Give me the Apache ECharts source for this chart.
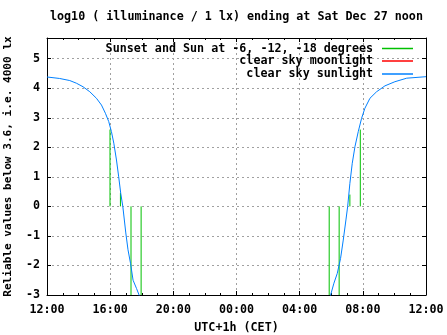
<!DOCTYPE html>
<html>
<head>
<meta charset="utf-8">
<script src="https://cdn.jsdelivr.net/npm/echarts@6/dist/echarts.min.js"></script>
<style>html,body{margin:0;padding:0;background:#fff;}#c{width:447px;height:335px;}</style>
</head>
<body>
<div id="c"></div>
<script>
// ---- data (hours after 12:00 noon) ----
const tickLabels = ['12:00', '16:00', '20:00', '00:00', '04:00', '08:00', '12:00'];
const eveningHours = [0, 0.80, 1.44, 1.86, 2.28, 2.71, 3.13, 3.45, 3.70, 3.91, 4.08, 4.23, 4.40, 4.54, 4.67, 4.80, 4.99, 5.13, 5.29, 5.45, 5.67, 5.83, 5.95];
const eveningSun = [4.38, 4.33, 4.26, 4.17, 4.05, 3.88, 3.66, 3.43, 3.15, 2.87, 2.53, 2.14, 1.57, 1.00, 0.44, 0.00, -0.90, -1.47, -1.93, -2.50, -2.78, -3.00, -3.30];
const morningHours = [17.85, 17.96, 18.17, 18.38, 18.59, 18.76, 18.93, 19.04, 19.18, 19.33, 19.50, 19.71, 19.92, 20.13, 20.45, 20.87, 21.40, 22.03, 22.78, 24.0];
const morningSun = [-3.30, -3.00, -2.60, -2.27, -1.76, -1.14, -0.46, 0.00, 0.78, 1.46, 2.02, 2.53, 2.98, 3.32, 3.66, 3.88, 4.08, 4.22, 4.34, 4.39];
const moonHours = [];
const moonValues = [];
const eventHours = [3.99, 4.65, 5.32, 5.96, 17.87, 18.50, 19.18, 19.84];
const eventTops = [2.6, 0.45, -3, -3, -3, -3, 0.4, 2.6];

const FONT = 'DejaVu Sans Mono';
const FS = 11.7;
const NAME_EV = 'Sunset and Sun at -6, -12, -18 degrees';
const NAME_MOON = 'clear sky moonlight';
const NAME_SUN = 'clear sky sunlight';
const GREEN = '#00c000', RED = '#ff0000', BLUE = '#0080ff';

const zip = (a, b) => a.map((x, i) => [x, b[i]]);

const series = [];
eventHours.forEach((h, i) => {
  series.push({
    name: NAME_EV, type: 'line', symbol: 'none', silent: true, animation: false,
    lineStyle: { color: GREEN, width: 1 }, itemStyle: { color: GREEN },
    data: [[h, 0], [h, eventTops[i]]]
  });
});
series.push({
  name: NAME_MOON, type: 'line', symbol: 'none', animation: false,
  lineStyle: { color: RED, width: 1 }, itemStyle: { color: RED },
  data: zip(moonHours, moonValues)
});
[[eveningHours, eveningSun], [morningHours, morningSun]].forEach(([h, v]) => {
  series.push({
    name: NAME_SUN, type: 'line', symbol: 'none', animation: false,
    lineStyle: { color: BLUE, width: 1 }, itemStyle: { color: BLUE },
    data: zip(h, v)
  });
});

const legendCommon = {
  orient: 'vertical', right: 34, align: 'right', icon: 'rect',
  itemWidth: 31, itemHeight: 1.5, padding: 0, selectedMode: false,
  textStyle: { fontFamily: FONT, fontWeight: 'bold', fontSize: FS, color: '#000', lineHeight: 12, padding: [0, 4, 0, 0] }
};

const gridLine = { show: true, lineStyle: { color: '#a0a0a0', type: [2, 3], width: 1 } };
const txt = { fontFamily: FONT, fontWeight: 'bold', fontSize: FS, color: '#000' };

const chart = echarts.init(document.getElementById('c'), null, { renderer: 'canvas' });
chart.setOption({
  backgroundColor: '#fff',
  animation: false,
  title: {
    text: 'log10 ( illuminance / 1 lx) ending at Sat Dec 27 noon',
    left: 50, top: 11, padding: 0,
    textStyle: txt
  },
  legend: [
    Object.assign({}, legendCommon, { top: 42.5, data: [NAME_EV] }),
    Object.assign({}, legendCommon, { top: 55, data: [NAME_MOON] }),
    Object.assign({}, legendCommon, { top: 68, data: [NAME_SUN] })
  ],
  grid: { left: 47, right: 21, top: 38, bottom: 40, containLabel: false, outerBoundsMode: 'none' },
  xAxis: [{
    type: 'value', min: 0, max: 24, interval: 4,
    name: 'UTC+1h (CET)', nameLocation: 'middle', nameGap: 27,
    nameTextStyle: txt,
    axisLine: { show: true, onZero: false, lineStyle: { color: '#000', width: 1 } },
    axisTick: { show: true, inside: true, length: 4, lineStyle: { color: '#000' } },
    minorTick: { show: true, splitNumber: 4, length: 2, lineStyle: { color: '#000' } },
    axisLabel: Object.assign({ margin: 9, formatter: v => tickLabels[Math.round(v / 4)] }, txt),
    splitLine: gridLine
  }, {
    type: 'value', min: 0, max: 24, interval: 4, position: 'top',
    axisLine: { show: true, onZero: false, lineStyle: { color: '#000', width: 1 } },
    axisTick: { show: true, inside: true, length: 4, lineStyle: { color: '#000' } },
    minorTick: { show: true, splitNumber: 4, length: 2, lineStyle: { color: '#000' } },
    axisLabel: { show: false }, splitLine: { show: false }
  }],
  yAxis: [{
    type: 'value', min: -3, max: 5.7, interval: 1,
    name: 'Reliable values below 3.6, i.e. 4000 lx', nameLocation: 'middle', nameGap: 33, nameRotate: 90,
    nameMoveOverlap: false,
    nameTextStyle: Object.assign({}, txt, { fontSize: 11.1 }),
    axisLine: { show: true, onZero: false, lineStyle: { color: '#000', width: 1 } },
    axisTick: { show: true, inside: true, length: 4, lineStyle: { color: '#000' } },
    axisLabel: Object.assign({ margin: 7,
      formatter: v => (Math.abs(v - Math.round(v)) < 1e-6 ? String(Math.round(v)) : '') }, txt),
    splitLine: gridLine
  }, {
    type: 'value', min: -3, max: 5.7, interval: 1, position: 'right',
    axisLine: { show: true, onZero: false, lineStyle: { color: '#000', width: 1 } },
    axisTick: { show: true, inside: true, length: 4, lineStyle: { color: '#000' } },
    axisLabel: { show: false }, splitLine: { show: false }
  }],
  series: series
});
</script>
</body>
</html>
